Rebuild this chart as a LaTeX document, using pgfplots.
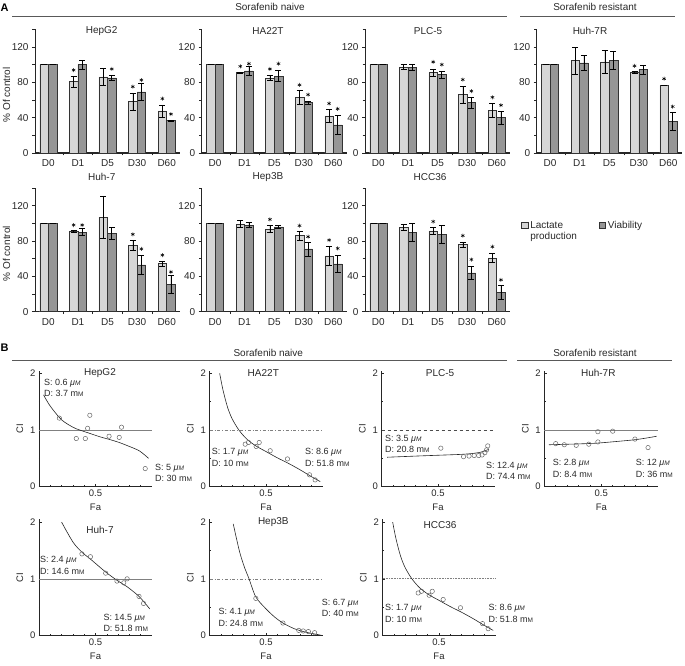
\documentclass[border=0pt]{standalone}
\usepackage{fontspec}
\setmainfont{Liberation Sans}
\usepackage{pgfplots}
\pgfplotsset{compat=1.18}
\definecolor{lightfill}{RGB}{214,214,214}
\definecolor{darkfill}{RGB}{150,150,150}
\definecolor{txt}{RGB}{40,40,40}
\newcommand{\sm}{{\fontsize{6.5}{7}\selectfont M}}
\newcommand{\uM}{\textit{μ\sm}}
\newcommand{\mM}{m\sm}
\pgfplotsset{
 /pgf/number format/assume math mode=true,
 aax/.style={scale only axis, width=145pt, height=123.8pt, xmin=-0.45, xmax=4.45, ymin=0, ymax=140,
   axis lines*=left, axis line style={line width=0.7pt, black!85},
   x axis line style={line width=1.1pt},
   xtick={0,1,2,3,4}, xticklabels={D0,D1,D5,D30,D60}, major x tick style={draw=none},
   minor xtick={0.5,1.5,2.5,3.5},
   ytick={0,40,80,120}, minor ytick={20,60,100,140},
   tick align=outside, major tick length=3pt, minor tick length=2.5pt,
   tick style={black!85, line width=0.5pt},
   tick label style={font=\fontsize{10}{11}\selectfont, text=txt},
   ylabel style={font=\fontsize{10}{11}\selectfont, text=txt, at={(axis description cs:-0.197,0.47)}, anchor=center},
   clip=false},
 ebar/.style={error bars/y dir=both, error bars/y explicit,
   error bars/error bar style={line width=0.6pt, black},
   error bars/error mark options={rotate=90, mark size=3pt, line width=0.6pt, black}},
 lbar/.style={ybar, bar width=0.29, bar shift=0pt, fill=lightfill, draw=black!80, line width=0.45pt, ebar},
 dbar/.style={ybar, bar width=0.29, bar shift=0pt, fill=darkfill, draw=black!80, line width=0.45pt, ebar},
 star/.style={only marks, mark=asterisk, mark size=2pt, mark options={line width=0.5pt}, black},
 bax/.style={scale only axis, width=113pt, height=116.2pt, xmin=0, xmax=1, ymin=0, ymax=2.05,
   axis lines*=left, axis line style={line width=0.6pt, black!85},
   xtick={0.5}, minor xtick={0.1,0.2,0.3,0.4,0.6,0.7,0.8,0.9},
   ytick={0,1,2}, minor ytick={0.5,1.5},
   tick align=inside, major tick length=2.5pt, minor tick length=1.5pt,
   tick style={black!85, line width=0.5pt},
   tick label style={font=\fontsize{9.5}{10}\selectfont, text=txt},
   xlabel=Fa, ylabel=CI, label style={font=\fontsize{9.5}{10}\selectfont, text=txt},
   clip=false},
 curve/.style={smooth, tension=0.5, black!85, line width=0.6pt, no markers},
 pts/.style={only marks, mark=o, mark size=2.2pt, mark options={line width=0.5pt}, black!60},
 refl/.style={line width=0.6pt, black!50, no markers},
}
% #1 x, #2 ybottom, #3 light rows, #4 dark rows, #5 stars, #6 opts, #7 extra
\newcommand{\Apanel}[7]{%
\begin{axis}[aax, at={(#1pt,-#2pt)}, anchor=south west, #6]
\addplot[forget plot, lbar] table[row sep=\\, x expr=\thisrow{x}-0.145, y=y, y error=e] {x y e\\ #3};
\addplot[forget plot, dbar] table[row sep=\\, x expr=\thisrow{x}+0.145, y=y, y error=e] {x y e\\ #4};
\addplot[forget plot, star] coordinates {#5};
#7
\end{axis}}
% #1 x, #2 ybottom, #3 opts, #4 ref style, #5 ref end, #6 curve, #7 points
\newcommand{\Bpanel}[7]{%
\begin{axis}[bax, at={(#1pt,-#2pt)}, anchor=south west, #3]
\addplot[refl, #4] coordinates {(0,1) (#5,1)};
\addplot[curve] coordinates {#6};
\addplot[pts] coordinates {#7};
\end{axis}}
\newcommand{\ann}[3]{\node[anchor=west, inner sep=0pt, font=\fontsize{9}{10}\selectfont, text=txt] at (#1pt,-#2pt) {#3};}
\newcommand{\ttl}[3]{\node[inner sep=0pt, font=\fontsize{10}{11}\selectfont, text=txt] at (#1pt,-#2pt) {#3};}
\begin{document}
\begin{tikzpicture}
\useasboundingbox (0pt,0pt) rectangle (685pt,-666pt);
% ---------- Panel A headers
\node[font=\bfseries\fontsize{11}{12}\selectfont] at (4.5pt,-8pt) {A};
\ttl{270}{7}{Sorafenib naive}
\ttl{595}{7}{Sorafenib resistant}
\draw[black!65, line width=0.8pt] (12pt,-16pt) -- (507pt,-16pt);
\draw[black!65, line width=0.8pt] (520pt,-16pt) -- (675pt,-16pt);
% ---------- Row 1
\Apanel{35}{153}{0 100 0\\ 1 80.7 6\\ 2 86 9.5\\ 3 58 10\\ 4 47.5 7\\}
 {0 100 0\\ 1 100 5\\ 2 85 3\\ 3 69 9.5\\ 4 36.6 0.5\\}
 {(0.855,93.7) (2.855,75) (3.855,61.5) (2.145,95) (3.145,82.5) (4.145,44)}
 {ylabel={\% Of control}}{}
\Apanel{201.7}{153}{0 100 0\\ 1 91 0.5\\ 2 84.8 3\\ 3 63 8\\ 4 42 7\\}
 {0 100 0\\ 1 93 5\\ 2 87 6\\ 3 57 2\\ 4 31.7 11\\}
 {(0.855,98) (1.855,95) (2.855,77) (3.855,56) (1.145,101) (2.145,101) (3.145,66) (4.145,50)}
 {}{}
\Apanel{365}{153}{0 100 0\\ 1 97.5 3\\ 2 91 4\\ 3 66 9.5\\ 4 48 8\\}
 {0 100 0\\ 1 97 3.5\\ 2 88.6 4\\ 3 57 6\\ 4 40 7\\}
 {(1.855,103) (2.855,83) (3.855,63) (2.145,100) (3.145,70) (4.145,54)}
 {}{}
\Apanel{536.7}{153}{0 100 0\\ 1 104.5 15\\ 2 103 13\\ 3 91.5 1\\ 4 76.5 0\\}
 {0 100 0\\ 1 102 8\\ 2 104.5 10\\ 3 94.5 5\\ 4 36 10\\}
 {(2.855,98.5) (3.855,84) (4.145,52.5)}
 {}{}
% ---------- Row 2
\Apanel{35}{311.7}{0 100 0\\ 1 91 1\\ 2 107 24\\ 3 75 6\\ 4 54.5 3\\}
 {0 100 0\\ 1 90 4\\ 2 88.6 7\\ 3 53 11\\ 4 31.3 10\\}
 {(0.855,98) (1.145,98) (2.855,87.5) (3.145,71) (3.855,64) (4.145,45)}
 {ylabel={\% Of control}}{}
\Apanel{201.7}{311.7}{0 100 0\\ 1 99 4\\ 2 93.5 4\\ 3 86 5\\ 4 63 11\\}
 {0 100 0\\ 1 98 3\\ 2 96 2\\ 3 71 8\\ 4 54 10\\}
 {(1.855,104.4) (2.855,97.3) (3.145,84.8) (3.855,81) (4.145,71.6)}
 {}{}
\Apanel{365}{311.7}{0 100 0\\ 1 95.4 3\\ 2 91.3 4\\ 3 76 3\\ 4 61 5\\}
 {0 100 0\\ 1 89.7 10\\ 2 87.5 10\\ 3 44 7\\ 4 21.5 8\\}
 {(1.855,102) (2.855,86) (3.145,59) (3.855,73.5) (4.145,36)}
 {legend style={at={(1.056,0.767)}, anchor=north west, draw=none, fill=none, legend columns=2,
   font=\fontsize{10}{11}\selectfont, text=txt, /tikz/every even column/.append style={column sep=20pt}}}
 {\addlegendimage{legend image code/.code={\draw[fill=lightfill, draw=black!80, line width=0.45pt] (0pt,-3pt) rectangle (6.5pt,3.5pt);}}
  \addlegendentry{\begin{tabular}[t]{@{}l@{}}Lactate\\production\end{tabular}}
  \addlegendimage{legend image code/.code={\draw[fill=darkfill, draw=black!80, line width=0.45pt] (0pt,-3pt) rectangle (6.5pt,3.5pt);}}
  \addlegendentry{Viability}}
\ttl{101.7}{31}{HepG2}
\ttl{268}{31}{HA22T}
\ttl{428}{31}{PLC-5}
\ttl{590}{31}{Huh-7R}
\ttl{101.7}{177}{Huh-7}
\ttl{268}{177}{Hep3B}
\ttl{430}{177}{HCC36}
% ---------- Panel B headers
\node[font=\bfseries\fontsize{11}{12}\selectfont] at (4.5pt,-348pt) {B};
\ttl{268.3}{352.7}{Sorafenib naive}
\ttl{595}{352.7}{Sorafenib resistant}
\draw[black!65, line width=0.8pt] (12pt,-360.7pt) -- (507pt,-360.7pt);
\draw[black!65, line width=0.8pt] (517pt,-360.7pt) -- (672pt,-360.7pt);
% ---------- B row 1
\Bpanel{39}{486.7}{}{}{1}
 {(0.04,1.62) (0.1,1.42) (0.2,1.18) (0.3,1.05) (0.36,1.0) (0.45,0.94) (0.54,0.88) (0.63,0.83) (0.71,0.78) (0.8,0.71) (0.89,0.63) (0.97,0.5)}
 {(0.18,1.21) (0.33,0.85) (0.41,0.85) (0.43,1.03) (0.45,1.26) (0.62,0.89) (0.71,0.87) (0.73,1.05) (0.94,0.32)}
\Bpanel{209.5}{486.7}{}{dash dot}{1}
 {(0.09,2.0) (0.12,1.7) (0.16,1.4) (0.2,1.2) (0.26,1.0) (0.33,0.84) (0.41,0.72) (0.5,0.62) (0.6,0.51) (0.7,0.41) (0.8,0.3) (0.9,0.18) (0.98,0.09)}
 {(0.316,0.75) (0.345,0.78) (0.413,0.71) (0.44,0.78) (0.537,0.635) (0.69,0.49) (0.885,0.21) (0.935,0.12)}
\Bpanel{381.5}{486.7}{}{dashed, black!70}{1}
 {(0.05,0.52) (0.3,0.54) (0.5,0.555) (0.7,0.57) (0.8,0.585) (0.88,0.61) (0.95,0.66)}
 {(0.525,0.68) (0.726,0.53) (0.775,0.54) (0.82,0.55) (0.86,0.55) (0.89,0.56) (0.915,0.6) (0.93,0.65) (0.94,0.72)}
\Bpanel{544.3}{486.7}{width=114pt}{}{1}
 {(0.04,0.74) (0.3,0.755) (0.47,0.77) (0.7,0.81) (0.8,0.83) (0.9,0.86) (0.985,0.89)}
 {(0.1,0.76) (0.175,0.74) (0.28,0.73) (0.39,0.75) (0.47,0.79) (0.47,0.97) (0.6,0.98) (0.795,0.84) (0.91,0.69)}
% ---------- B row 2
\Bpanel{39}{635.5}{}{}{1}
 {(0.2,2.0) (0.3,1.65) (0.38,1.47) (0.46,1.34) (0.59,1.12) (0.7,0.96) (0.78,0.86) (0.88,0.70) (0.93,0.59) (0.98,0.47)}
 {(0.38,1.44) (0.455,1.39) (0.59,1.10) (0.69,0.96) (0.75,0.93) (0.78,1.0) (0.885,0.69) (0.925,0.565)}
\Bpanel{209.5}{635.5}{}{dash dot}{1}
 {(0.21,1.97) (0.24,1.7) (0.27,1.45) (0.31,1.2) (0.35,1.0) (0.41,0.68) (0.5,0.47) (0.58,0.32) (0.65,0.22) (0.75,0.12) (0.85,0.06) (0.95,0.02) (1.0,0.0)}
 {(0.41,0.655) (0.65,0.22) (0.79,0.09) (0.83,0.08) (0.875,0.07) (0.93,0.05)}
\Bpanel{382.5}{635.5}{}{densely dotted, line width=1pt}{1}
 {(0.09,2.0) (0.12,1.7) (0.16,1.4) (0.2,1.2) (0.26,1.0) (0.33,0.84) (0.41,0.72) (0.5,0.62) (0.6,0.51) (0.7,0.41) (0.8,0.3) (0.9,0.18) (0.98,0.09)}
 {(0.316,0.75) (0.345,0.78) (0.413,0.71) (0.44,0.78) (0.537,0.635) (0.69,0.49) (0.885,0.21) (0.935,0.12)}
% ---------- B titles
\ttl{100}{373.3}{HepG2}
\ttl{263.3}{373.3}{HA22T}
\ttl{440}{373.3}{PLC-5}
\ttl{598.3}{373}{Huh-7R}
\ttl{100}{530}{Huh-7}
\ttl{273.3}{522}{Hep3B}
\ttl{440}{525}{HCC36}
% ---------- B annotations
\ann{44}{383.3}{S: 0.6 \uM}
\ann{44}{393.8}{D: 3.7 \mM}
\ann{155}{468}{S: 5 \uM}
\ann{155}{478.5}{D: 30 \mM}
\ann{211.7}{452}{S: 1.7 \uM}
\ann{211.7}{463.5}{D: 10 \mM}
\ann{305}{452}{S: 8.6 \uM}
\ann{305}{463.5}{D: 51.8 \mM}
\ann{385}{439.5}{S: 3.5 \uM}
\ann{385}{449.5}{D: 20.8 \mM}
\ann{486}{466}{S: 12.4 \uM}
\ann{486}{476}{D: 74.4 \mM}
\ann{552.7}{463.3}{S: 2.8 \uM}
\ann{552.7}{474.5}{D: 8.4 \mM}
\ann{635.7}{463.3}{S: 12 \uM}
\ann{635.7}{474.5}{D: 36 \mM}
\ann{40}{560}{S: 2.4 \uM}
\ann{40}{571}{D: 14.6 \mM}
\ann{103.3}{618.3}{S: 14.5 \uM}
\ann{103.3}{628.8}{D: 51.8 \mM}
\ann{218.3}{612.7}{S: 4.1 \uM}
\ann{218.3}{623}{D: 24.8 \mM}
\ann{321.7}{603.3}{S: 6.7 \uM}
\ann{321.7}{613.6}{D: 40 \mM}
\ann{385}{608.3}{S: 1.7 \uM}
\ann{385}{619.3}{D: 10 \mM}
\ann{488.3}{608.3}{S: 8.6 \uM}
\ann{488.3}{619.3}{D: 51.8 \mM}
\end{tikzpicture}
\end{document}
